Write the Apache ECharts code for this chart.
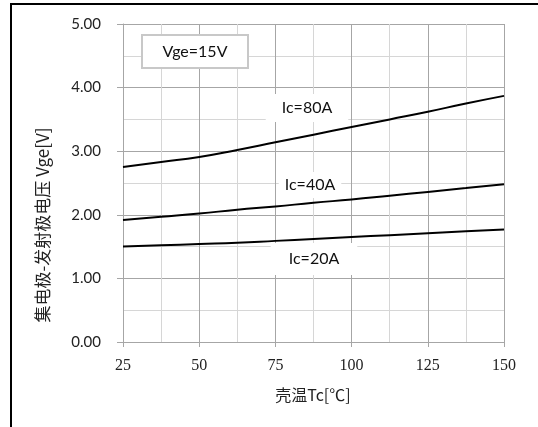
<!DOCTYPE html>
<html><head><meta charset="utf-8">
<script src="https://cdn.jsdelivr.net/npm/echarts@6/dist/echarts.min.js"></script>
<style>html,body{margin:0;padding:0;background:#fff}#c{width:538px;height:427px}</style>
</head><body><div id="c"></div>
<script>
const temps = [25, 37.5, 50, 62.5, 75, 87.5, 100, 112.5, 125, 137.5, 150];
const ic80 = [2.75, 2.83, 2.91, 3.02, 3.14, 3.26, 3.38, 3.50, 3.62, 3.75, 3.87];
const ic40 = [1.92, 1.97, 2.02, 2.08, 2.13, 2.19, 2.24, 2.30, 2.36, 2.42, 2.48];
const ic20 = [1.50, 1.52, 1.54, 1.56, 1.59, 1.62, 1.65, 1.68, 1.71, 1.74, 1.77];
const seriesNames = ['Ic=80A', 'Ic=40A', 'Ic=20A'];
const xTitle = '壳温Tc[℃]';
const yTitle = '集电极-发射极电压 Vge[V]';
const condition = 'Vge=15V';

const chart = echarts.init(document.getElementById('c'), null, {renderer: 'canvas'});
function pairs(ys) { return temps.map((t, i) => [t, ys[i]]); }
const lineStyle = {color: '#000', width: 2};
const labelFont = '16px Lato, "Open Sans", sans-serif';
const major = '#a6a6a6', minor = '#d6d6d6';
chart.setOption({
  animation: false,
  grid: {left: 123, right: 34, top: 24, bottom: 85},
  xAxis: {
    type: 'value', min: 25, max: 150, interval: 25,
    axisLine: {show: true, lineStyle: {color: major, width: 1}},
    axisTick: {show: true, length: 5, lineStyle: {color: major}},
    minorTick: {show: false, splitNumber: 2},
    splitLine: {show: true, lineStyle: {color: major, width: 1}},
    minorSplitLine: {show: true, lineStyle: {color: minor, width: 1}},
    axisLabel: {margin: 16, color: '#222', fontSize: 16, fontFamily: '"Liberation Serif", "DejaVu Serif", serif'}
  },
  yAxis: {
    type: 'value', min: 0, max: 5, interval: 1,
    axisLine: {show: true, lineStyle: {color: major, width: 1}},
    axisTick: {show: true, length: 6, lineStyle: {color: major}},
    minorTick: {show: false, splitNumber: 2},
    splitLine: {show: true, lineStyle: {color: major, width: 1}},
    minorSplitLine: {show: true, lineStyle: {color: minor, width: 1}},
    axisLabel: {margin: 22, color: '#222', fontSize: 15, fontFamily: 'Lato, "Open Sans", sans-serif',
      formatter: v => v.toFixed(2)}
  },
  series: [
    {name: seriesNames[0], type: 'line', data: pairs(ic80), smooth: true, showSymbol: false, lineStyle, z: 3},
    {name: seriesNames[1], type: 'line', data: pairs(ic40), smooth: true, showSymbol: false, lineStyle, z: 3},
    {name: seriesNames[2], type: 'line', data: pairs(ic20), smooth: true, showSymbol: false, lineStyle, z: 3}
  ],
  graphic: [
    {type: 'rect', z: 10, shape: {x: 11, y: 4, width: 600, height: 500}, style: {fill: 'none', stroke: '#000', lineWidth: 2}},
    {type: 'rect', z: 1, shape: {x: 142, y: 35, width: 106, height: 33}, style: {fill: '#fff', stroke: '#c8c8c8', lineWidth: 2}},
    {type: 'text', z: 1, x: 195, y: 52, style: {text: condition, font: labelFont, fill: '#111', align: 'center', verticalAlign: 'middle'}},
    {type: 'text', z: 1, x: 307, y: 108, style: {text: seriesNames[0], font: labelFont, fill: '#111', align: 'center', verticalAlign: 'middle', backgroundColor: '#fff', padding: [6, 16, 6, 16]}},
    {type: 'text', z: 1, x: 310, y: 185, style: {text: seriesNames[1], font: labelFont, fill: '#111', align: 'center', verticalAlign: 'middle', backgroundColor: '#fff', padding: [5, 6, 5, 6]}},
    {type: 'text', z: 1, x: 314, y: 259, style: {text: seriesNames[2], font: labelFont, fill: '#111', align: 'center', verticalAlign: 'middle', backgroundColor: '#fff', padding: [8, 18, 8, 18]}},
    {type: 'text', z: 1, x: 313, y: 395, style: {text: xTitle, font: '16px "Noto Sans CJK SC", sans-serif', fill: '#222', align: 'center', verticalAlign: 'middle'}},
    {type: 'text', z: 1, x: 43, y: 225, rotation: Math.PI / 2, style: {text: yTitle, font: '17px "Noto Sans CJK SC", sans-serif', fill: '#222', align: 'center', verticalAlign: 'middle'}}
  ]
});
</script></body></html>
